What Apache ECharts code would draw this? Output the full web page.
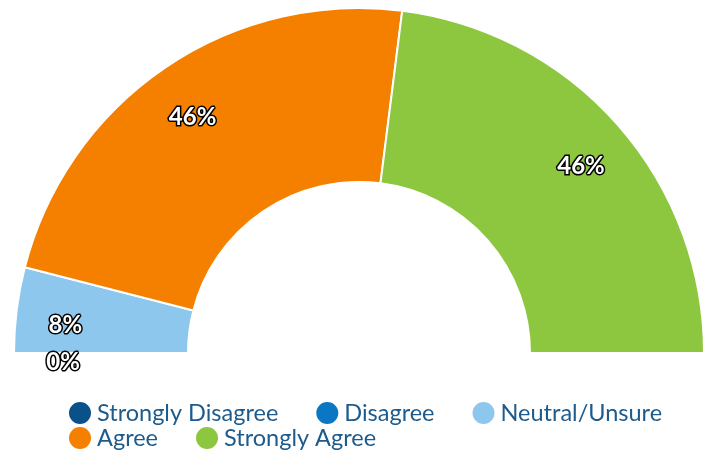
<!DOCTYPE html>
<html>
<head>
<meta charset="utf-8">
<script src="https://cdn.jsdelivr.net/npm/echarts@6/dist/echarts.min.js"></script>
<style>html,body{margin:0;padding:0;background:#fff;}#c{width:710px;height:453px;}</style>
</head>
<body>
<div id="c"></div>
<script>
const categories = ['Strongly Disagree', 'Disagree', 'Neutral/Unsure', 'Agree', 'Strongly Agree'];
const values = [0, 0, 8, 46, 46];
const colors = ['#0a5189', '#0b77c3', '#8ec7ee', '#f58000', '#8dc63f'];

const chart = echarts.init(document.getElementById('c'), null, { renderer: 'canvas' });
const data = categories.map((n, i) => ({ name: n, value: values[i] }));
const legendText = { color: '#1d5b8d', fontSize: 23.5, fontFamily: 'Lato' };
const legendBase = { icon: 'circle', itemWidth: 24, itemHeight: 24, itemGap: 36, left: 67, padding: 0, textStyle: legendText, selectedMode: false };

chart.setOption({
  animation: false,
  color: colors,
  legend: [
    Object.assign({}, legendBase, { data: categories.slice(0, 3), top: 400 }),
    Object.assign({}, legendBase, { data: categories.slice(3), top: 425 })
  ],
  series: [
    {
      type: 'pie',
      center: [359, 353],
      radius: [171, 345],
      startAngle: 180,
      endAngle: 0,
      clockwise: true,
      data: data,
      label: { show: false },
      labelLine: { show: false },
      itemStyle: { borderColor: '#fff', borderWidth: 2 },
      emphasis: { disabled: true },
      silent: true
    },
    {
      type: 'pie',
      center: [359, 353],
      radius: [0, 586],
      startAngle: 180,
      endAngle: 0,
      clockwise: true,
      data: data,
      itemStyle: { color: 'rgba(0,0,0,0)' },
      label: {
        show: true,
        position: 'inside',
        formatter: '{c}%',
        color: '#fff',
        fontSize: 24,
        fontWeight: 'bold',
        fontFamily: 'Lato',
        textBorderColor: '#000',
        textBorderWidth: 3,
        offset: [0, 9]
      },
      labelLine: { show: false },
      emphasis: { disabled: true },
      silent: true
    }
  ]
});
</script>
</body>
</html>
